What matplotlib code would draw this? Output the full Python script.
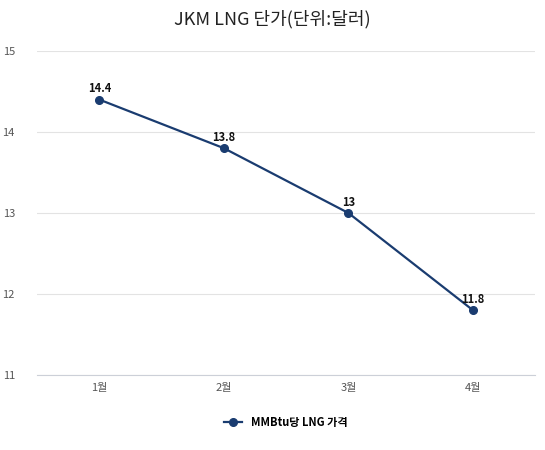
import matplotlib.pyplot as plt

plt.rcParams['font.family'] = ['Noto Sans CJK KR', 'DejaVu Sans']

months = ['1월', '2월', '3월', '4월']
prices = [14.4, 13.8, 13, 11.8]
price_labels = ['14.4', '13.8', '13', '11.8']
series_name = 'MMBtu당 LNG 가격'
title = 'JKM LNG 단가(단위:달러)'

color = '#1a3c70'

fig = plt.figure(figsize=(5.45, 4.5), dpi=100)
ax = fig.add_axes([0.068, 0.1667, 0.914, 0.72])

x = range(len(months))
ax.plot(x, prices, color=color, lw=1.6, marker='o', ms=5.5, label=series_name)
for i, (v, t) in enumerate(zip(prices, price_labels)):
    ax.annotate(t, (i, v), xytext=(0, 3), textcoords='offset points',
                ha='center', va='bottom', fontsize=8, fontweight='bold', color='#111111')

ax.set_xlim(-0.5, 3.5)
ax.set_ylim(11, 15)
ax.set_yticks([11, 12, 13, 14, 15])
ax.set_xticks(list(x))
ax.set_xticklabels(months)
ax.grid(axis='y', color='#e3e3e3', lw=0.8)
ax.set_axisbelow(True)
for s in ['top', 'right', 'left']:
    ax.spines[s].set_visible(False)
ax.spines['bottom'].set_color('#ccd0d8')
ax.tick_params(length=0, colors='#555555', labelsize=8)
ax.tick_params(axis='y', pad=16)
ax.tick_params(axis='x', pad=6)

fig.text(0.5, 0.958, title, ha='center', va='center', fontsize=13, color='#222222')
ax.legend(loc='upper center', bbox_to_anchor=(0.5, -0.095), frameon=False,
          prop={'weight': 'bold', 'size': 8}, handlelength=1.6)

fig.savefig('out.png', dpi=100)
